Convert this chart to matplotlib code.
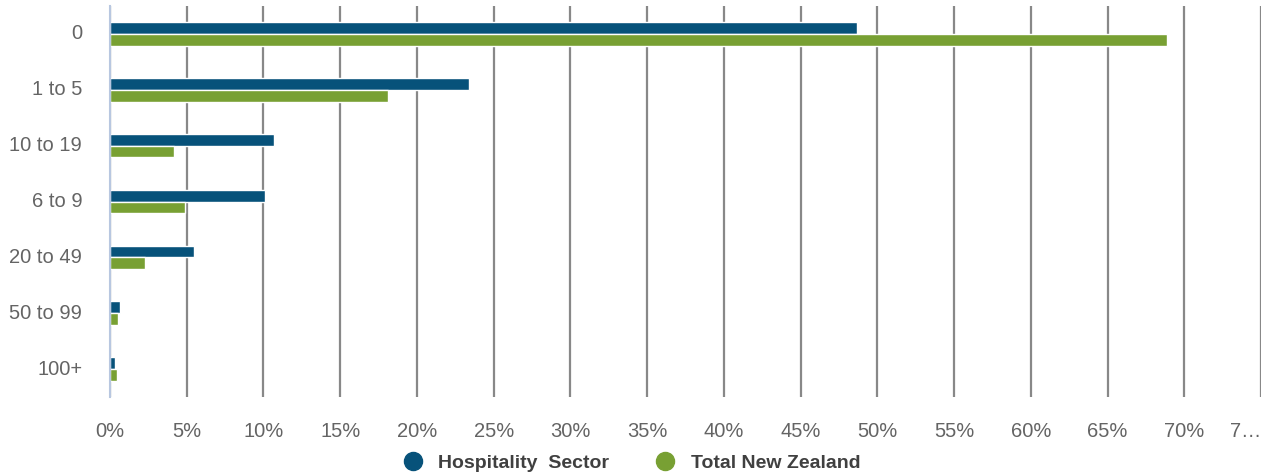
import numpy as np
import matplotlib.pyplot as plt
from matplotlib.lines import Line2D
from matplotlib.transforms import ScaledTranslation

plt.rcParams['font.family'] = ['Liberation Sans', 'DejaVu Sans']

# business size bands (number of employees)
SIZE_BANDS = ["0", "1 to 5", "10 to 19", "6 to 9", "20 to 49", "50 to 99", "100+"]
HOSPITALITY = [48.7, 23.4, 10.7, 10.1, 5.5, 0.65, 0.3]
TOTAL_NZ = [68.9, 18.1, 4.2, 4.9, 2.3, 0.55, 0.45]

X_TICKS = list(range(0, 80, 5))
X_LABELS = [f"{t}%" for t in X_TICKS[:-1]] + ["7…"]

BLUE = "#07527a"
GREEN = "#78a033"
TEXT_GREY = "#646464"

fig = plt.figure(figsize=(12.67, 4.77), dpi=100)
ax = fig.add_axes([0.0868, 0.1656, 0.9085, 0.8197])

y = np.arange(len(SIZE_BANDS))
h = 0.21
ax.barh(y - h / 2, HOSPITALITY, height=h, color=BLUE, edgecolor="white",
        linewidth=1, zorder=3)
ax.barh(y + h / 2, TOTAL_NZ, height=h, color=GREEN, edgecolor="white",
        linewidth=1, zorder=3)

ax.set_ylim(len(SIZE_BANDS) - 0.5, -0.5)
ax.set_xlim(0, 75)
ax.set_yticks(y)
ax.set_yticklabels(SIZE_BANDS, fontsize=14.5, color=TEXT_GREY)
ax.set_xticks(X_TICKS)
ax.set_xticklabels(X_LABELS, fontsize=14.5, color=TEXT_GREY)
last = ax.get_xticklabels()[-1]
last.set_horizontalalignment("right")
last.set_transform(last.get_transform() + ScaledTranslation(-8 / 100, 0, fig.dpi_scale_trans))
ax.tick_params(axis="x", length=0, pad=17)
ax.tick_params(axis="y", length=0, pad=20)
for lbl in ax.get_yticklabels():
    lbl.set_transform(lbl.get_transform() + ScaledTranslation(0, 3 / 100, fig.dpi_scale_trans))

ax.grid(axis="x", color="#888888", linewidth=1.6, zorder=0)
ax.set_axisbelow(True)
for side in ["top", "right", "bottom"]:
    ax.spines[side].set_visible(False)
ax.spines["left"].set_color("#b8c7e0")
ax.spines["left"].set_linewidth(1.5)
ax.spines["left"].set_zorder(4)

handles = [
    Line2D([], [], marker="o", linestyle="", markersize=13, color=BLUE),
    Line2D([], [], marker="o", linestyle="", markersize=13, color=GREEN),
]
fig.legend(handles, ["Hospitality  Sector", "Total New Zealand"],
           loc="center", bbox_to_anchor=(0.4985, 0.028), ncol=2, frameon=False,
           handletextpad=0.8, columnspacing=2.4, handlelength=1.0,
           prop={"weight": "bold", "size": 14},
           labelcolor="#404040")

fig.savefig("out.png", dpi=100)
